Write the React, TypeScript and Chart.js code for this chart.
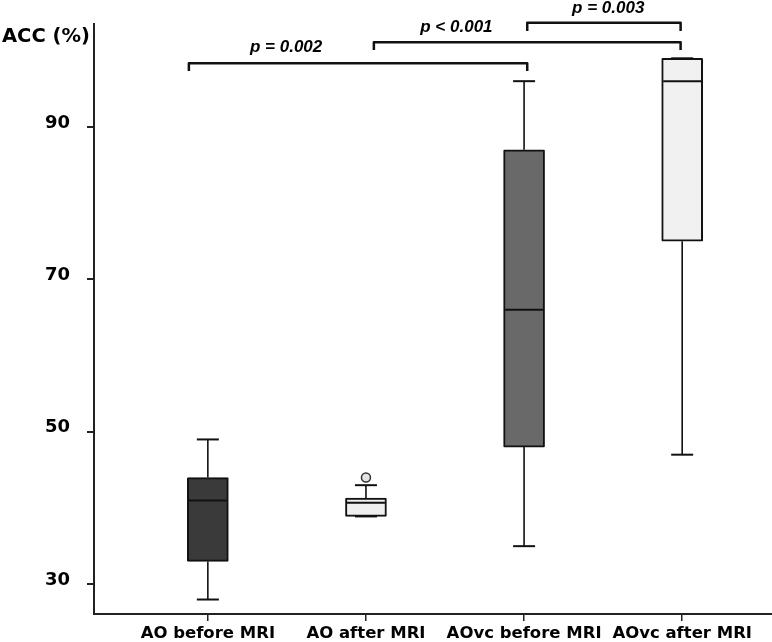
import React, { useEffect, useRef } from 'react';
import { Chart, registerables } from 'chart.js';

Chart.register(...registerables);

// ---- data ----
const categories = ['AO before MRI', 'AO after MRI', 'AOvc before MRI', 'AOvc after MRI'];
const whiskerMin = [28, 38.9, 35, 47];
const quartile1 = [33, 38.9, 48, 75];
const medians = [41, 40.7, 66, 96];
const quartile3 = [44, 41.3, 87, 99];
const whiskerMax = [49, 43, 96, 99];
const outlierCategory = [1];
const outlierValues = [44];
const boxFills = ['#3a3a3a', '#efefef', '#696969', '#f1f1f1'];
const yTicks = [30, 50, 70, 90];
const yAxisTitle = 'ACC (%)';

// significance brackets (category index units / value units)
const bracketLabels = ['p = 0.002', 'p < 0.001', 'p = 0.003'];
const bracketStart = [-0.12, 1.05, 2.02];
const bracketEnd = [2.02, 2.99, 2.99];
const bracketLevel = [98.34, 101.09, 103.66];
const bracketLegEnd = [97.33, 100.08, 102.57];
const bracketLabelX = [0.495, 1.572, 2.532];
const bracketLabelY = [99.78, 102.4, 104.89];

const Y_MIN = 26.1;
const Y_MAX = 103.5;
const X_MIN = -0.72;
const X_MAX = 3.568;

const boxPlotPlugin = {
  id: 'boxPlotExtras',
  afterDatasetsDraw(chart: any) {
    const { ctx, scales } = chart;
    const x = scales.x;
    const y = scales.y;
    ctx.save();
    ctx.strokeStyle = '#111';
    categories.forEach((_, i) => {
      const cx = x.getPixelForValue(i);
      const capHalf = 11;
      const halfBox = 19;
      ctx.lineWidth = 1.6;
      ctx.beginPath();
      ctx.moveTo(cx, y.getPixelForValue(quartile3[i]));
      ctx.lineTo(cx, y.getPixelForValue(whiskerMax[i]));
      ctx.stroke();
      ctx.beginPath();
      ctx.moveTo(cx, y.getPixelForValue(quartile1[i]));
      ctx.lineTo(cx, y.getPixelForValue(whiskerMin[i]));
      ctx.stroke();
      ctx.lineWidth = 2;
      [whiskerMax[i], whiskerMin[i]].forEach((v) => {
        const py = y.getPixelForValue(v);
        ctx.beginPath();
        ctx.moveTo(cx - capHalf, py);
        ctx.lineTo(cx + capHalf, py);
        ctx.stroke();
      });
      const my = y.getPixelForValue(medians[i]);
      ctx.beginPath();
      ctx.moveTo(cx - halfBox, my);
      ctx.lineTo(cx + halfBox, my);
      ctx.stroke();
    });
    ctx.restore();
  },
  afterDraw(chart: any) {
    const { ctx, scales } = chart;
    const x = scales.x;
    const y = scales.y;
    ctx.save();
    ctx.strokeStyle = '#111';
    ctx.lineWidth = 2.5;
    ctx.lineJoin = 'round';
    bracketLabels.forEach((label, i) => {
      const x1 = x.getPixelForValue(bracketStart[i]);
      const x2 = x.getPixelForValue(bracketEnd[i]);
      const yl = y.getPixelForValue(bracketLevel[i]);
      const yLeg = y.getPixelForValue(bracketLegEnd[i]);
      ctx.beginPath();
      ctx.moveTo(x1, yLeg);
      ctx.lineTo(x1, yl);
      ctx.lineTo(x2, yl);
      ctx.lineTo(x2, yLeg);
      ctx.stroke();
      ctx.fillStyle = '#000';
      ctx.font = 'italic bold 17px "Liberation Sans", Arial, sans-serif';
      ctx.textAlign = 'center';
      ctx.textBaseline = 'alphabetic';
      ctx.fillText(label, x.getPixelForValue(bracketLabelX[i]), y.getPixelForValue(bracketLabelY[i]));
    });
    ctx.fillStyle = '#000';
    ctx.font = 'bold 19.5px "DejaVu Sans", Verdana, sans-serif';
    ctx.textAlign = 'left';
    ctx.textBaseline = 'alphabetic';
    ctx.fillText(yAxisTitle, 2, 41.7);
    ctx.restore();
  },
};

export default function App() {
  const canvasRef = useRef<HTMLCanvasElement | null>(null);

  useEffect(() => {
    document.body.style.margin = '0';
    const canvas = canvasRef.current;
    if (!canvas) return;
    const chart = new Chart(canvas, {
      type: 'bar',
      data: {
        datasets: [
          {
            type: 'bar',
            data: categories.map((_, i) => ({ x: i, y: [quartile1[i], quartile3[i]] })) as any,
            backgroundColor: boxFills,
            borderColor: '#111',
            borderWidth: 2,
            borderSkipped: false,
            borderRadius: 1,
            barThickness: 41,
          } as any,
          {
            type: 'scatter',
            data: outlierCategory.map((c, i) => ({ x: c, y: outlierValues[i] })),
            pointStyle: 'circle',
            pointRadius: 4.5,
            backgroundColor: '#e4e4e4',
            borderColor: '#333',
            borderWidth: 1.5,
          } as any,
        ],
      },
      options: {
        responsive: false,
        animation: false,
        events: [],
        layout: { autoPadding: false, padding: { left: 0, top: 24, right: 0, bottom: 0 } },
        plugins: {
          legend: { display: false },
          tooltip: { enabled: false },
        },
        scales: {
          x: {
            type: 'linear',
            min: X_MIN,
            max: X_MAX,
            offset: false,
            afterBuildTicks: (scale: any) => {
              scale.ticks = categories.map((_, i) => ({ value: i }));
            },
            afterFit: (scale: any) => {
              scale.height = 46;
              scale.paddingLeft = 0;
              scale.paddingRight = 0;
            },
            grid: {
              display: true,
              drawOnChartArea: false,
              drawTicks: true,
              tickLength: 7,
              offset: false,
              color: '#222',
              lineWidth: 1.5,
            },
            border: { display: true, color: '#222', width: 2 },
            ticks: {
              autoSkip: false,
              maxRotation: 0,
              padding: 3,
              color: '#000',
              font: { family: '"DejaVu Sans", Verdana, sans-serif', size: 16.5, weight: 'bold' },
              callback: (v: any) => categories[Math.round(Number(v))] ?? '',
            },
          },
          y: {
            type: 'linear',
            min: Y_MIN,
            max: Y_MAX,
            afterBuildTicks: (scale: any) => {
              scale.ticks = yTicks.map((v) => ({ value: v }));
            },
            afterFit: (scale: any) => {
              scale.width = 94;
              scale.paddingTop = 0;
              scale.paddingBottom = 0;
            },
            grid: {
              display: true,
              drawOnChartArea: false,
              drawTicks: true,
              tickLength: 7,
              color: '#222',
              lineWidth: 2,
            },
            border: { display: true, color: '#222', width: 2 },
            ticks: {
              padding: 17,
              labelOffset: -4,
              color: '#000',
              font: { family: '"DejaVu Sans", Verdana, sans-serif', size: 18, weight: 'bold' },
            },
          },
        },
      } as any,
      plugins: [boxPlotPlugin],
    });
    return () => chart.destroy();
  }, []);

  return (
    <div style={{ width: 772, height: 642, overflow: 'hidden', background: '#fff' }}>
      <canvas ref={canvasRef} width={772} height={660} style={{ display: 'block' }} />
    </div>
  );
}
